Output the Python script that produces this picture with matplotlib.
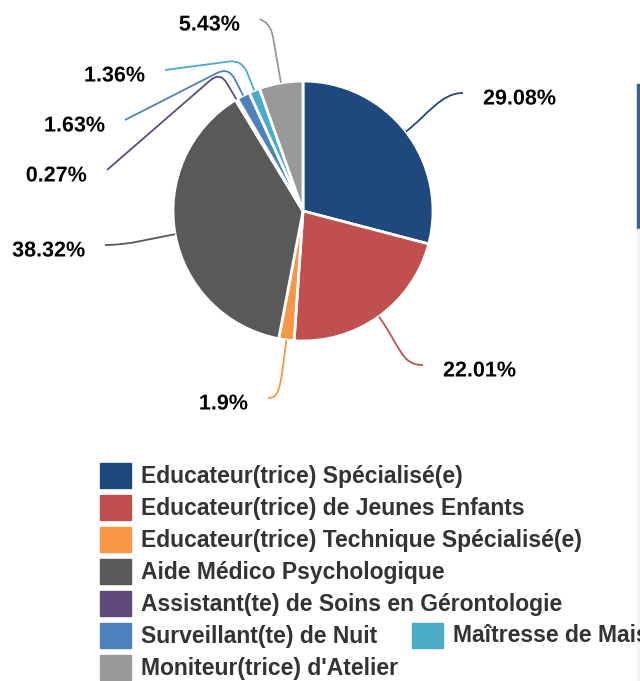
import numpy as np
import matplotlib.pyplot as plt
from matplotlib.path import Path
from matplotlib.patches import PathPatch, Rectangle
import matplotlib.patheffects as pe

plt.rcParams['font.family'] = ['Liberation Sans', 'DejaVu Sans']

categories = [
    "Educateur(trice) Spécialisé(e)",
    "Educateur(trice) de Jeunes Enfants",
    "Educateur(trice) Technique Spécialisé(e)",
    "Aide Médico Psychologique",
    "Assistant(te) de Soins en Gérontologie",
    "Surveillant(te) de Nuit",
    "Maîtresse de Maison",
    "Moniteur(trice) d'Atelier",
]
shares = [29.08, 22.01, 1.9, 38.32, 0.27, 1.63, 1.36, 5.43]
colors = ['#1f497d', '#c0504d', '#f79646', '#595959',
          '#604a7b', '#4f81bd', '#4bacc6', '#999999']

# layout, in pixels from the top-left corner
W, H = 640, 681
cx, cy, R = 303, 211, 130
corner_r = [158, 168, 178, 152, 162, 162, 163, 188]
label_end = [(463, 93), (423, 365), (268, 398), (105, 245),
             (107, 170), (125, 120), (165, 70), (260, 19)]
lead = [22, 22, 12, 25, 0, 0, 0, 0]
legend_slots = [(0, 0), (0, 1), (0, 2), (0, 3), (0, 4), (0, 5), (1, 5), (0, 6)]
legend_x = [100, 412]


def rounded(pts, rad=12):
    pts = [np.asarray(p, float) for p in pts]
    verts, codes = [pts[0]], [Path.MOVETO]
    for i in range(1, len(pts) - 1):
        p, a, b = pts[i], pts[i - 1], pts[i + 1]
        va, vb = a - p, b - p
        la, lb = np.hypot(*va), np.hypot(*vb)
        p1 = p + va / la * min(rad, la * 0.6)
        p2 = p + vb / lb * min(rad, lb * 0.6)
        verts += [p1, p, p2]
        codes += [Path.LINETO, Path.CURVE3, Path.CURVE3]
    verts.append(pts[-1])
    codes.append(Path.LINETO)
    return Path(verts, codes)


fig = plt.figure(figsize=(W / 100, H / 100), dpi=100)
ax = fig.add_axes([0, 0, 1, 1])
wedges, _ = ax.pie(shares, colors=colors, startangle=90, counterclock=False,
                   radius=R, center=(cx, H - cy),
                   wedgeprops=dict(edgecolor='white', linewidth=2))
ax.set_xlim(0, W)
ax.set_ylim(0, H)
ax.set_aspect('equal')
ax.axis('off')

for i, w in enumerate(wedges):
    mid = np.deg2rad((w.theta1 + w.theta2) / 2)
    d = np.array([np.cos(mid), np.sin(mid)])
    c = np.array([cx, H - cy])
    S = c + R * d
    C = c + corner_r[i] * d
    ex, ey = label_end[i]
    E = np.array([ex, H - ey])
    side = 1 if ex > cx else -1
    if lead[i]:
        # smooth curve that ends horizontally next to the label
        path = Path([S, C, E - [side * lead[i], 0], E],
                    [Path.MOVETO, Path.CURVE4, Path.CURVE4, Path.CURVE4])
    else:
        path = rounded([S, C, E], 13)
    ax.add_patch(PathPatch(path, fill=False, edgecolor=colors[i], lw=1.3))
    ax.text(ex + side * 20, H - (ey + 6), f"{shares[i]:g}%",
            ha='left' if side > 0 else 'right', va='center',
            fontsize=15.5, fontweight='bold', color='black',
            path_effects=[pe.withStroke(linewidth=2, foreground='white')])

for name, col, (cx_i, row) in zip(categories, colors, legend_slots):
    x = legend_x[cx_i]
    top = 463 + 32 * row
    ax.add_patch(Rectangle((x, H - top - 25), 31, 25, color=col))
    ax.text(x + 41, H - (top + 13), name, va='center', ha='left',
            fontsize=16.5, fontweight='bold', color='#333333')

# bits of the neighbouring panel at the right edge
ax.add_patch(Rectangle((637, H - 229), 3, 229 - 84, color='#3a6289'))
ax.add_patch(Rectangle((637, 0), 3, H - 229, color='#f3f3f3'))

fig.savefig('out.png', dpi=100)
